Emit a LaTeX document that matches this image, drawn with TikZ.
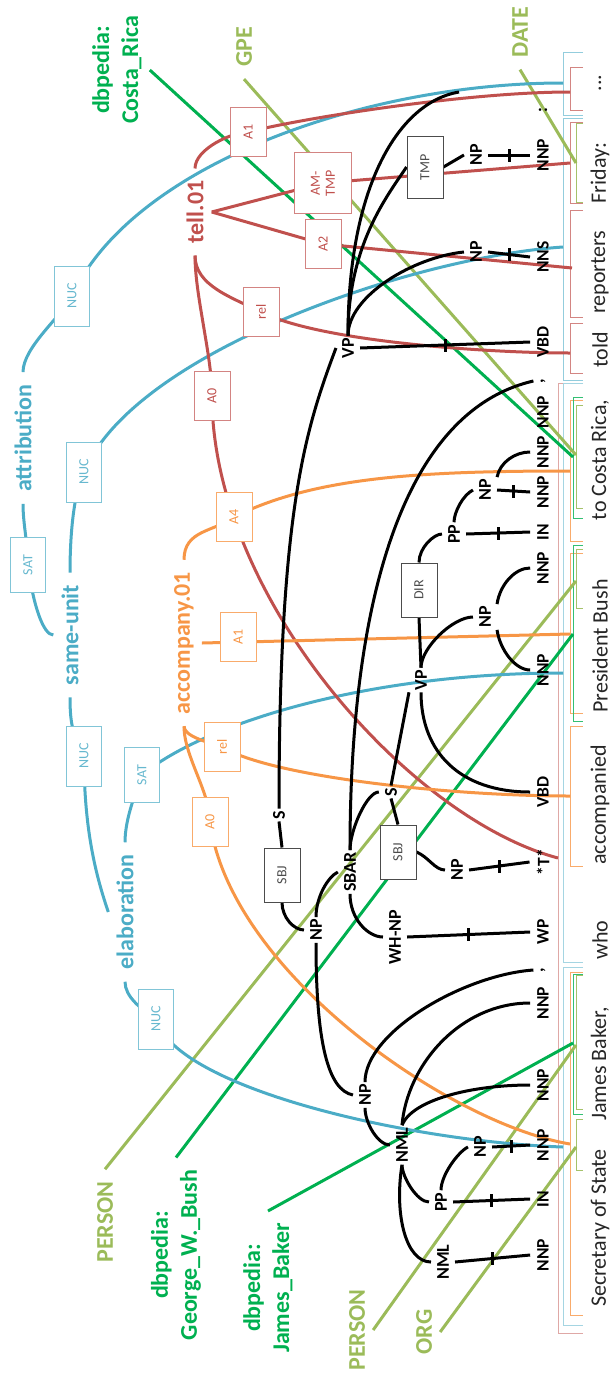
\documentclass[tikz,border=0pt]{standalone}
\usepackage{fontspec}
\setmainfont{Carlito}
\usetikzlibrary{calc}
\definecolor{rstblue}{RGB}{75,172,198}
\definecolor{srlred}{RGB}{192,80,77}
\definecolor{srlorange}{RGB}{247,150,70}
\definecolor{dbgreen}{RGB}{0,176,80}
\definecolor{nergreen}{RGB}{155,187,89}
\pgfdeclarelayer{brk}
\pgfdeclarelayer{lines}
\pgfsetlayers{brk,lines,main}
\tikzset{
  word/.style={rotate=90,text=black!85,font=\fontsize{22}{26}\selectfont,inner sep=1pt},
  tagnode/.style={rotate=90,font=\bfseries\fontsize{17.5}{20}\selectfont,inner xsep=2pt,inner ysep=7pt},
  phrase/.style={rotate=90,font=\bfseries\fontsize{18}{21}\selectfont,inner xsep=2pt,inner ysep=6pt},
  lbl/.style={rotate=90,font=\bfseries\fontsize{24}{29}\selectfont,align=center,inner xsep=12pt,inner ysep=8pt},
  argbox/.style={rotate=90,draw,fill=white,line width=1pt,font=\fontsize{14}{15}\selectfont,
    minimum width=49pt,minimum height=36pt,inner sep=1pt,align=center},
  rstbox/.style={argbox,draw=rstblue!70,text=rstblue!85,minimum width=60pt,minimum height=35pt},
  redbox/.style={argbox,draw=srlred!70,text=srlred},
  orbox/.style={argbox,draw=srlorange!80,text=srlorange},
  blkbox/.style={argbox,draw=black!70,text=black!70,minimum width=54pt},
  treeedge/.style={draw=black,line width=3pt},
  tickmark/.style={fill=black,inner sep=0pt,minimum width=3pt,minimum height=13pt},
  srl/.style={draw=srlred,line width=3pt},
  arg/.style={draw=srlorange,line width=3pt},
  rst/.style={draw=rstblue,line width=3pt},
  db/.style={draw=dbgreen,line width=3pt},
  ner/.style={draw=nergreen,line width=3pt}
}
\newcommand{\unaryedge}[2]{\draw[treeedge] (#1) -- (#2) node[midway,tickmark]{};}
\newcommand{\segbracket}[4]{\draw[#1,line width=1pt] (583,#3) -- (#2,#3) -- (#2,#4) -- (583,#4);}

\begin{document}
\begin{tikzpicture}[x=1pt,y=-1pt]
\useasboundingbox (0,0) rectangle (612,1373);
% words
\node[word] (w1) at (600,1228) {Secretary of State};
\node[word] (w2) at (600,1064) {James Baker,};
\node[word] (w3) at (600,940) {who};
\node[word] (w4) at (600,805) {accompanied};
\node[word] (w5) at (600,646) {President Bush};
\node[word] (w6) at (600,460) {to Costa Rica,};
\node[word] (w7) at (600,350) {told};
\node[word] (w8) at (600,272) {reporters};
\node[word] (w9) at (600,173) {Friday:};
\node[word] (w10) at (600,83) {...};
% part-of-speech tags
\node[tagnode] (t1) at (543,1255) {NNP};
\node[tagnode] (t2) at (543,1199) {IN};
\node[tagnode] (t3) at (543,1145) {NNP};
\node[tagnode] (t4) at (543,1085) {NNP};
\node[tagnode] (t5) at (543,1003) {NNP};
\node[tagnode] (t6) at (543,970) {,};
\node[tagnode] (t7) at (543,932) {WP};
\node[tagnode] (t8) at (543,862) {*T*};
\node[tagnode] (t9) at (543,792) {VBD};
\node[tagnode] (t10) at (543,670) {NNP};
\node[tagnode] (t11) at (543,568) {NNP};
\node[tagnode] (t12) at (543,532) {IN};
\node[tagnode] (t13) at (543,492) {NNP};
\node[tagnode] (t14) at (543,452) {NNP};
\node[tagnode] (t15) at (543,412) {NNP};
\node[tagnode] (t16) at (543,381) {,};
\node[tagnode] (t17) at (543,342) {VBD};
\node[tagnode] (t18) at (543,257) {NNS};
\node[tagnode] (t19) at (543,155) {NNP};
\node[tagnode] (t20) at (543,110) {:};
% phrases
\node[phrase] (S) at (279,815) {S};
\node[phrase] (NPs) at (316,930) {NP};
\node[phrase] (SBAR) at (350,872) {SBAR};
\node[phrase] (WHNP) at (395,937) {WH-NP};
\node[phrase] (S2) at (391,792) {S};
\node[phrase] (NPt) at (457,870) {NP};
\node[phrase] (VPa) at (421,680) {VP};
\node[phrase] (PP2) at (454,534) {PP};
\node[phrase] (NPcr) at (485,490) {NP};
\node[phrase] (NPpb) at (485,617) {NP};
\node[phrase] (NPin) at (365,1095) {NP};
\node[phrase] (NMLa) at (402,1145) {NML};
\node[phrase] (PP1) at (441,1202) {PP};
\node[phrase] (NPst) at (480,1147) {NP};
\node[phrase] (NMLb) at (443,1262) {NML};
\node[phrase] (VPt) at (348,348) {VP};
\node[phrase] (NPr) at (476,252) {NP};
\node[phrase] (NPf) at (476,155) {NP};
% function boxes
\node[blkbox] (sbj1) at (282,875) {SBJ};
\node[blkbox] (sbj2) at (398,852) {SBJ};
\node[blkbox] (dir) at (419,590) {DIR};
\node[blkbox,minimum width=62pt] (tmp) at (425,167) {TMP};
% rst labels and boxes
\node[lbl,text=rstblue] (attr) at (23,438) {attribution};
\node[lbl,text=rstblue] (su) at (70,635) {same-unit};
\node[lbl,text=rstblue] (elab) at (125,912) {elaboration};
\node[rstbox] (nuc1) at (72,296) {NUC};
\node[rstbox,minimum width=55pt] (sat1) at (28,565) {SAT};
\node[rstbox] (nuc2) at (84,472) {NUC};
\node[rstbox] (nuc3) at (84,756) {NUC};
\node[rstbox,minimum width=55pt] (sat2) at (142,775) {SAT};
\node[rstbox] (nuc4) at (156,1019) {NUC};
% predicates and roles
\node[lbl,text=srlred] (tell) at (195,212) {tell.01};
\node[redbox] (a1t) at (248,132) {A1};
\node[redbox,minimum width=61pt,minimum height=57pt] (amtmp) at (323,183) {AM-\\TMP};
\node[redbox] (a2t) at (323,244) {A2};
\node[redbox] (relt) at (261,312) {rel};
\node[redbox] (a0t) at (212,396) {A0};
\node[lbl,text=srlorange] (acc) at (184,643) {accompany.01};
\node[orbox] (a4o) at (234,517) {A4};
\node[orbox] (a1o) at (238,637) {A1};
\node[orbox] (relo) at (222,747) {rel};
\node[orbox] (a0o) at (210,822) {A0};
% entity labels
\node[lbl,text=dbgreen] (dbCR) at (117,70) {dbpedia:\\Costa\_Rica};
\node[lbl,text=nergreen] (gpe) at (244,47) {GPE};
\node[lbl,text=nergreen] (date) at (520,32) {DATE};
\node[lbl,text=nergreen] (perU) at (105,1222) {PERSON};
\node[lbl,text=dbgreen] (dbGB) at (176,1255) {dbpedia:\\George\_W.\_Bush};
\node[lbl,text=dbgreen] (dbJB) at (268,1288) {dbpedia:\\James\_Baker};
\node[lbl,text=nergreen] (perL) at (357,1330) {PERSON};
\node[lbl,text=nergreen] (org) at (424,1332) {ORG};
% line ends on the brackets
\coordinate (colonEnd) at (459,92);
\coordinate (rDots) at (570,92);
\coordinate (rFri) at (570,163);
\coordinate (rRep) at (572,268);
\coordinate (rTold) at (570,353);
\coordinate (rTrace) at (558,858);
\coordinate (oCR) at (570,471);
\coordinate (oPB) at (570,634);
\coordinate (oAcc) at (570,796);
\coordinate (oSJ) at (570,1144);
\coordinate (bDots) at (563,83);
\coordinate (bTold) at (563,247);
\coordinate (bPB) at (563,673);
\coordinate (bSJ) at (563,1147);
\coordinate (gCR) at (573,457);
\coordinate (gPB) at (573,634);
\coordinate (gJB) at (573,1043);
\coordinate (nGPE) at (576,455);
\coordinate (nDate) at (576,163);
\coordinate (nBush) at (576,581);
\coordinate (nJB) at (576,1045);
\coordinate (nOrg) at (576,1147);

\begin{pgfonlayer}{brk}
% segment brackets
\segbracket{srlred!70}{570}{67}{110}
\segbracket{srlred!70}{570}{122}{203}
\segbracket{srlred!70}{570}{210}{317}
\segbracket{srlred!70}{570}{323}{373}
\segbracket{srlred!50}{558}{383}{1333}
\segbracket{rstblue!60}{563}{52}{115}
\segbracket{rstblue!60}{563}{118}{380}
\segbracket{rstblue!50}{563}{383}{962}
\segbracket{rstblue!50}{563}{967}{1325}
\segbracket{srlorange!80}{570}{400}{541}
\segbracket{srlorange!80}{570}{553}{713}
\segbracket{srlorange!80}{570}{726}{866}
\segbracket{srlorange!80}{570}{972}{1315}
\segbracket{dbgreen!80}{573}{397}{518}
\segbracket{dbgreen!80}{573}{545}{721}
\segbracket{dbgreen!80}{573}{974}{1114}
\segbracket{nergreen!90}{576}{123}{202}
\segbracket{nergreen!90}{576}{405}{508}
\segbracket{nergreen!90}{576}{549}{608}
\segbracket{nergreen!90}{576}{975}{1109}
\segbracket{nergreen!90}{576}{1119}{1170}
\end{pgfonlayer}

\begin{pgfonlayer}{lines}
% entity links
\draw[db] (dbCR.south) -- (gCR);
\draw[ner] (gpe.west) -- (nGPE);
\draw[ner] (date.west) -- (nDate);
\draw[ner] (perU.east) -- (nBush);
\draw[db] (dbGB.east) -- (gPB);
\draw[db] (dbJB.east) -- (gJB);
\draw[ner] (perL.south) -- (nJB);
\draw[ner] (org.south) -- (nOrg);
% discourse tree
\draw[rst] (attr.east) .. controls +(0,-25) and +(-10,20) .. (nuc1.center) .. controls +(60,-130) and +(-200,0) .. (bDots);
\draw[rst] (attr.west) .. controls +(0,20) and +(0,-20) .. (sat1.center) .. controls +(5,40) and +(-10,0) .. (su.north);
\draw[rst] (su.east) .. controls +(0,-40) and +(-10,20) .. (nuc2.center) .. controls +(50,-120) and +(-150,10) .. (bTold);
\draw[rst] (su.west) .. controls +(0,30) and +(-10,-20) .. (nuc3.center) .. controls +(0,80) and +(-10,-30) .. (elab.north);
\draw[rst] (elab.east) .. controls +(0,-25) and +(-5,15) .. (sat2.center) .. controls +(60,-50) and +(-200,0) .. (bPB);
\draw[rst] (elab.west) .. controls +(0,15) and +(-15,-10) .. (nuc4.center) .. controls +(20,70) and +(-150,-5) .. (bSJ);
% tell.01
\draw[srl] (tell.east) .. controls +(0,-20) and +(-15,0) .. (a1t.center) .. controls +(60,-15) and +(-100,0) .. (rDots);
\draw[srl] (tell.south) -- (amtmp.center) -- (rFri);
\draw[srl] (tell.south) -- (a2t.center) -- (rRep);
\draw[srl] (tell.west) .. controls +(0,30) and +(-30,-15) .. (relt.center) .. controls +(60,30) and +(-80,0) .. (rTold);
\draw[srl] (tell.west) .. controls +(0,40) and +(0,-40) .. (a0t.center) .. controls +(0,200) and +(-150,-40) .. (rTrace);
% accompany.01
\draw[arg] (acc.east) .. controls +(0,-30) and +(-20,15) .. (a4o.center) .. controls +(80,-40) and +(-150,0) .. (oCR);
\draw[arg] (acc.south) -- (oPB);
\draw[arg] (acc.west) .. controls +(0,10) and +(-15,-5) .. (relo.center) .. controls +(50,30) and +(-120,0) .. (oAcc);
\draw[arg] (acc.west) .. controls +(0,30) and +(0,-30) .. (a0o.center) .. controls +(20,150) and +(-120,-20) .. (oSJ);
% syntax tree
\draw[treeedge] (S.west) -- (sbj1.east);
\draw[treeedge] (sbj1.west) .. controls +(0,15) and +(-10,0) .. (NPs.north);
\draw[treeedge] (S.east) .. controls +(0,-300) and +(-30,80) .. (VPt.north);
\unaryedge{VPt.south}{t17.north}
\draw[treeedge] (VPt.east) .. controls +(0,-40) and +(-50,5) .. (NPr.north);
\unaryedge{NPr.south}{t18.north}
\draw[treeedge] (VPt.east) .. controls +(0,-90) and +(-20,30) .. (tmp.north);
\draw[treeedge] (tmp.south) -- (NPf.north);
\unaryedge{NPf.south}{t19.north}
\draw[treeedge] (VPt.east) .. controls +(0,-150) and +(-60,10) .. (colonEnd);
\draw[treeedge] (S2.east) -- (VPa.north west);
\draw[treeedge] (S2.west) -- (sbj2.east);
\draw[treeedge] (sbj2.south) .. controls +(12,5) and +(-10,0) .. (NPt.north);
\unaryedge{NPt.south}{t8.north}
\draw[treeedge] (SBAR.east) .. controls +(0,-20) and +(-12,0) .. (S2.north);
\draw[treeedge] (SBAR.west) .. controls +(0,25) and +(-15,0) .. (WHNP.north);
\unaryedge{WHNP.south}{t7.north}
\draw[treeedge] (NPs.east) .. controls +(0,-20) and +(-10,5) .. (SBAR.north);
\draw[treeedge] (SBAR.east) .. controls +(0,-250) and +(-130,30) .. (t16.north);
\draw[treeedge] (NPs.west) .. controls +(0,100) and +(-25,-5) .. (NPin.north);
\draw[treeedge] (NPin.east) .. controls +(0,-50) and +(-70,5) .. (t6.north);
\draw[treeedge] (NMLa.east) .. controls +(5,-60) and +(-70,0) .. (t5.north);
\draw[treeedge] (NMLa.east) .. controls +(10,-25) and +(-60,0) .. (t4.north);
\draw[treeedge] (NPin.west) .. controls +(0,15) and +(-12,0) .. (NMLa.north);
\draw[treeedge] (NMLa.west) .. controls +(0,12) and +(-12,0) .. (PP1.north);
\draw[treeedge] (NMLa.west) .. controls +(-8,50) and +(-25,0) .. (NMLb.north);
\unaryedge{PP1.south}{t2.north}
\draw[treeedge] (PP1.east) .. controls +(0,-15) and +(-10,5) .. (NPst.north);
\unaryedge{NPst.south}{t3.north}
\unaryedge{NMLb.south}{t1.north}
\draw[treeedge] (VPa.east) -- (dir.west);
\draw[treeedge] (dir.east) .. controls +(0,-15) and +(-8,0) .. (PP2.north);
\draw[treeedge] (VPa.east) .. controls +(0,-20) and +(-20,0) .. (NPpb.north);
\draw[treeedge] (VPa.west) .. controls +(0,60) and +(-70,0) .. (t9.north);
\draw[treeedge] (NPpb.south west) .. controls +(3,20) and +(-15,0) .. (t10.north);
\draw[treeedge] (NPpb.south east) .. controls +(3,-20) and +(-15,0) .. (t11.north);
\unaryedge{PP2.south}{t12.north}
\draw[treeedge] (PP2.east) .. controls +(0,-10) and +(-10,5) .. (NPcr.north);
\unaryedge{NPcr.south}{t13.north}
\draw[treeedge] (NPcr.south east) .. controls +(3,-15) and +(-15,0) .. (t14.north);
\end{pgfonlayer}
\end{tikzpicture}
\end{document}
